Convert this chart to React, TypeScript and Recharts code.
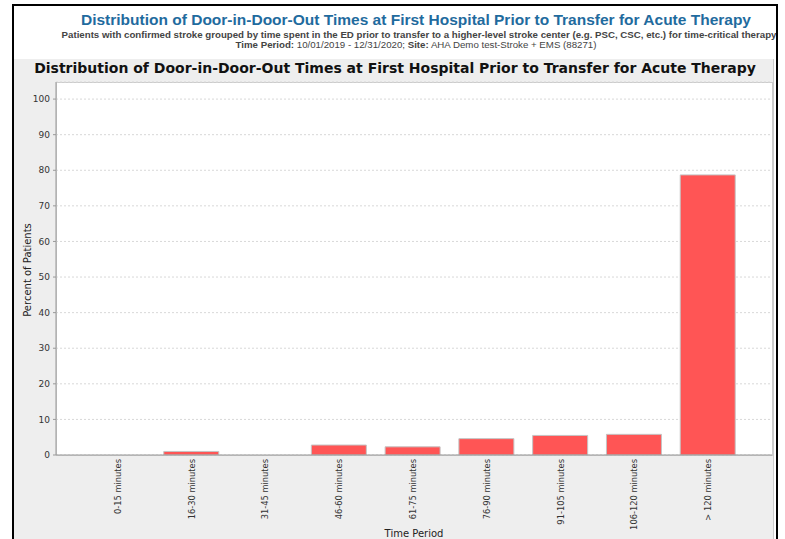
import React from "react";
import { BarChart, Bar, XAxis, YAxis, CartesianGrid } from "recharts";

const categories = [
  "0-15 minutes",
  "16-30 minutes",
  "31-45 minutes",
  "46-60 minutes",
  "61-75 minutes",
  "76-90 minutes",
  "91-105 minutes",
  "106-120 minutes",
  "> 120 minutes",
];
const percents = [0, 1.0, 0, 2.8, 2.3, 4.6, 5.5, 5.8, 78.7];
const yTicks = [0, 10, 20, 30, 40, 50, 60, 70, 80, 90, 100];

const chartData = categories.map((name, i) => ({ name, value: percents[i] }));

const TITLE =
  "Distribution of Door-in-Door-Out Times at First Hospital Prior to Transfer for Acute Therapy";

const XTick = ({ x, y, payload }: any) => (
  <text
    x={x + 3}
    y={y - 4}
    transform={`rotate(-90, ${x + 3}, ${y - 4})`}
    textAnchor="end"
    fontSize={8.3}
    fontFamily="DejaVu Sans"
    fill="#333"
  >
    {payload.value}
  </text>
);

const App = () => {
  return (
    <div style={{ position: "absolute", left: 0, top: 0, width: 785, height: 539, overflow: "hidden", background: "#fff" }}>
      {/* outer frame */}
      <div
        style={{
          position: "absolute",
          left: 12,
          top: 4,
          width: 762,
          height: 560,
          borderTop: "2px solid #000",
          borderLeft: "2px solid #000",
          borderRight: "2px solid #000",
          overflow: "hidden",
          background: "#fff",
        }}
      >
        <div
          style={{
            position: "absolute",
            left: 0,
            top: 5,
            width: 804,
            textAlign: "center",
            color: "#1f6b9e",
            fontFamily: "Liberation Sans",
            fontSize: 15.5,
            fontWeight: "bold",
            whiteSpace: "nowrap",
          }}
        >
          {TITLE}
        </div>
        <div
          style={{
            position: "absolute",
            left: 0,
            top: 23,
            width: 810,
            textAlign: "center",
            color: "#444",
            fontFamily: "Liberation Sans",
            fontSize: 9.7,
            fontWeight: "bold",
            whiteSpace: "nowrap",
          }}
        >
          Patients with confirmed stroke grouped by time spent in the ED prior to transfer to a higher-level stroke center (e.g. PSC, CSC, etc.) for time-critical therapy
        </div>
        <div
          style={{
            position: "absolute",
            left: 0,
            top: 33,
            width: 804,
            textAlign: "center",
            color: "#444",
            fontFamily: "Liberation Sans",
            fontSize: 9.7,
            whiteSpace: "nowrap",
          }}
        >
          <b>Time Period:</b> 10/01/2019 - 12/31/2020; <b>Site:</b> AHA Demo test-Stroke + EMS (88271)
        </div>
        {/* chart panel */}
        <div
          style={{
            position: "absolute",
            left: 0,
            top: 53,
            width: 759,
            height: 510,
            background: "#eeeeee",
            borderRight: "1px solid #ccc",
          }}
        />
      </div>
      {/* plot background */}
      <div
        style={{
          position: "absolute",
          left: 56,
          top: 82,
          width: 715,
          height: 372,
          background: "#fff",
          border: "1px solid #ccc",
        }}
      />
      <div
        style={{
          position: "absolute",
          left: 14,
          top: 60,
          width: 762,
          textAlign: "center",
          fontFamily: "DejaVu Sans",
          fontWeight: "bold",
          fontSize: 14,
          color: "#111",
          whiteSpace: "nowrap",
        }}
      >
        {TITLE}
      </div>
      <BarChart
        width={785}
        height={539}
        data={chartData}
        margin={{ top: 82, right: 13, bottom: 0, left: 16 }}
        style={{ position: "absolute", left: 0, top: 0 }}
      >
        <CartesianGrid vertical={false} stroke="#d8d8d8" strokeDasharray="2 2" />
        <XAxis
          dataKey="name"
          interval={0}
          height={84}
          padding={{ left: 25, right: 27 }}
          axisLine={{ stroke: "#999" }}
          tickLine={false}
          tick={<XTick />}
        />
        <YAxis
          width={40}
          domain={[0, 104.8]}
          ticks={yTicks}
          allowDataOverflow
          axisLine={{ stroke: "#999" }}
          tickLine={{ stroke: "#999" }}
          tickSize={3}
          tickMargin={3}
          tick={{ fontSize: 9, fill: "#333", fontFamily: "DejaVu Sans" }}
        />
        <Bar dataKey="value" fill="#ff5555" stroke="#c4c4c4" strokeWidth={1} barSize={55} isAnimationActive={false} />
      </BarChart>
      <div
        style={{
          position: "absolute",
          left: 27,
          top: 270,
          transform: "translate(-50%, -50%) rotate(-90deg)",
          fontFamily: "DejaVu Sans",
          fontSize: 10,
          color: "#222",
          whiteSpace: "nowrap",
        }}
      >
        Percent of Patients
      </div>
      <div
        style={{
          position: "absolute",
          left: 414,
          top: 528,
          transform: "translateX(-50%)",
          fontFamily: "DejaVu Sans",
          fontSize: 10,
          color: "#222",
          whiteSpace: "nowrap",
        }}
      >
        Time Period
      </div>
    </div>
  );
};

export default App;
